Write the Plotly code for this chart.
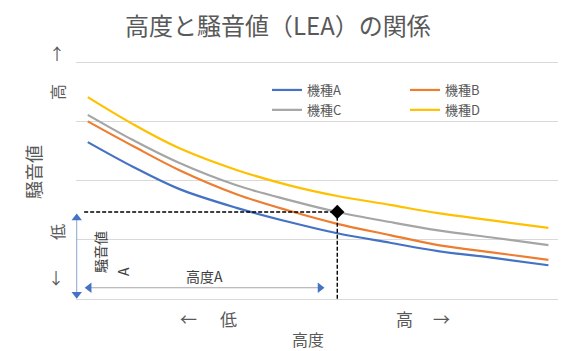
import plotly.graph_objects as go

# ---- data ----
altitude = [2, 11.5, 21, 33, 44, 54, 65, 75, 87, 98]
model_a = [2.65, 2.23, 1.86, 1.54, 1.30, 1.11, 0.95, 0.81, 0.69, 0.57]
model_b = [3.00, 2.58, 2.18, 1.77, 1.49, 1.27, 1.08, 0.91, 0.78, 0.66]
model_c = [3.11, 2.68, 2.30, 1.92, 1.67, 1.47, 1.30, 1.16, 1.03, 0.91]
model_d = [3.41, 2.95, 2.55, 2.18, 1.92, 1.74, 1.59, 1.45, 1.32, 1.20]
names = ["機種A", "機種B", "機種C", "機種D"]
colors = ["#4472C4", "#ED7D31", "#A5A5A5", "#FFC000"]

altitude_a = 54          # 高度A
noise_a = 1.47           # 騒音値A (on 機種C)
v_arrow = [-0.3, 0.1, 1.42]   # x, y_bottom, y_top
h_arrow = [0.19, 1.7, 51]     # y, x_left, x_right

W, H = 565, 351
L, R, T, B = 76, 7, 61, 52
PW, PH = W - L - R, H - T - B

def px(x):
    return (x - L) / PW

def py(y):
    return (H - B - y) / PH

fig = go.Figure()
series = [model_a, model_b, model_c, model_d]
legs = ["legend", "legend2", "legend", "legend2"]
for n, s, c, lg in zip(names, series, colors, legs):
    fig.add_trace(go.Scatter(x=altitude, y=s, mode="lines", name=n,
                             line=dict(color=c, width=2.2, shape="spline", smoothing=1.0),
                             legend=lg))

# dashed guide lines
fig.add_trace(go.Scatter(x=[1.25, altitude_a, altitude_a], y=[noise_a, noise_a, 0],
                         mode="lines", line=dict(color="black", width=1.4, dash="4px,2px"),
                         showlegend=False, hoverinfo="skip"))
fig.add_trace(go.Scatter(x=[altitude_a], y=[noise_a], mode="markers",
                         marker=dict(symbol="diamond", size=11, color="black"),
                         showlegend=False, hoverinfo="skip"))

# blue arrows
fig.add_trace(go.Scatter(x=[v_arrow[0], v_arrow[0]], y=[v_arrow[1], v_arrow[2]], mode="lines",
                         line=dict(color="#8ea4c8", width=1), showlegend=False,
                         hoverinfo="skip", cliponaxis=False))
fig.add_trace(go.Scatter(x=[v_arrow[0], v_arrow[0]], y=[v_arrow[1] - 0.02, v_arrow[2] - 0.05],
                         mode="markers",
                         marker=dict(symbol=["triangle-down", "triangle-up"], size=9, color="#4472C4"),
                         showlegend=False, hoverinfo="skip", cliponaxis=False))
fig.add_trace(go.Scatter(x=[h_arrow[1], h_arrow[2]], y=[h_arrow[0], h_arrow[0]], mode="lines",
                         line=dict(color="#a6a6a6", width=1), showlegend=False,
                         hoverinfo="skip", cliponaxis=False))
fig.add_trace(go.Scatter(x=[h_arrow[1] + 0.6, h_arrow[2] - 0.6], y=[h_arrow[0], h_arrow[0]],
                         mode="markers",
                         marker=dict(symbol=["triangle-left", "triangle-right"], size=9, color="#4472C4"),
                         showlegend=False, hoverinfo="skip", cliponaxis=False))

grey = "#595959"
font = "Noto Sans CJK JP"

def note(text, x, y, size, angle=0, color=grey):
    fig.add_annotation(text=text, x=px(x), y=py(y), xref="paper", yref="paper",
                       showarrow=False, textangle=angle, xanchor="center", yanchor="middle",
                       font=dict(size=size, color=color, family=font))

note("高度と騒音値（LEA）の関係", 278, 24, 24)
note("騒音値", 33, 172, 18, -90)
note("高度", 308, 339, 16)
note("↑", 57, 53, 16)
note("高", 57, 92, 16, -90)
note("低", 57, 232, 16, -90)
note("↓", 56, 277, 16)
note("←", 188, 318, 17)
note("低", 228, 318, 17)
note("高", 404, 318, 17)
note("→", 441, 318, 17)
note("騒音値", 100, 252, 14, -90, "#404040")
note("A", 123, 272, 14, -90, "#404040")
note("高度A", 204, 276, 14, 0, "#404040")

fig.update_layout(
    width=W, height=H,
    margin=dict(l=L, r=R, t=T, b=B),
    paper_bgcolor="white", plot_bgcolor="white",
    font=dict(family=font, color=grey),
    xaxis=dict(range=[-0.45, 100], showgrid=False, zeroline=False, showticklabels=False,
               ticks="", showline=False, fixedrange=True),
    yaxis=dict(range=[0, 4.02], dtick=1, showgrid=True, gridcolor="#d9d9d9", gridwidth=1,
               zeroline=True, zerolinecolor="#d9d9d9", zerolinewidth=1,
               showticklabels=False, ticks="", showline=False),
    legend=dict(x=px(267), y=py(75), xanchor="left", yanchor="top",
                bgcolor="rgba(0,0,0,0)", font=dict(size=13, color=grey, family=font),
                tracegroupgap=0, itemwidth=30),
    legend2=dict(x=px(405), y=py(75), xanchor="left", yanchor="top",
                 bgcolor="rgba(0,0,0,0)", font=dict(size=13, color=grey, family=font),
                 tracegroupgap=0, itemwidth=30),
    showlegend=True,
)

fig.write_html("out.html")
